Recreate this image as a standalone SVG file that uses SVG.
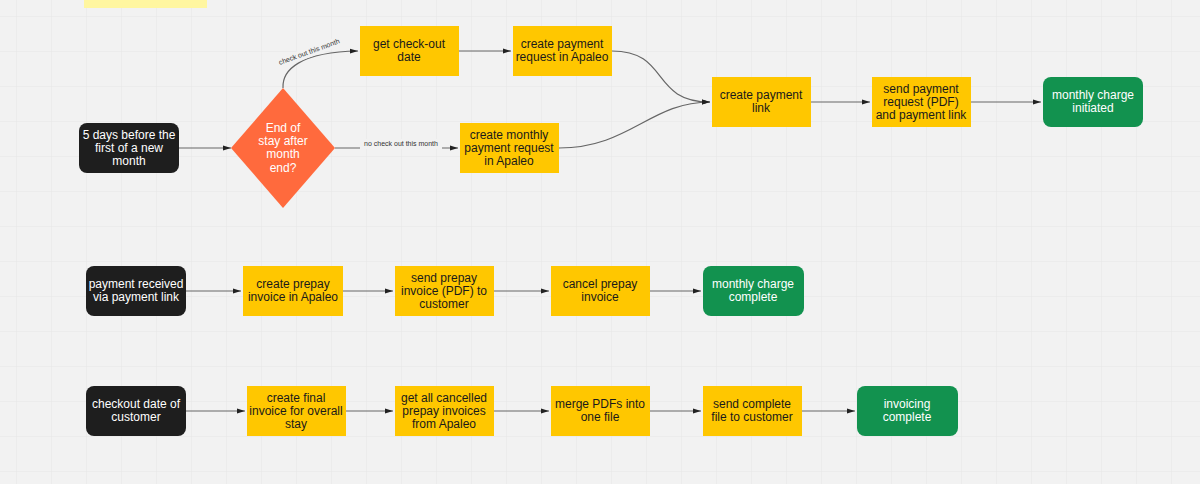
<svg xmlns="http://www.w3.org/2000/svg" width="1200" height="484" viewBox="0 0 1200 484">
<defs>
<pattern id="grid" width="35" height="35" patternUnits="userSpaceOnUse" x="17" y="17">
<path d="M35 0V35H0" fill="none" stroke="#e6e6e6" stroke-width="1"/>
</pattern>
<marker id="ar" viewBox="0 0 10 10" refX="10" refY="5" markerWidth="8" markerHeight="8" orient="auto" markerUnits="userSpaceOnUse"><path d="M0,2L10,5L0,8z" fill="#222"/></marker>
</defs>
<style>
.y{fill:#ffc700}
.b{fill:#1e1e1e}
.g{fill:#12924f}
text{font-family:"Liberation Sans",Arial,sans-serif;font-size:12px;text-anchor:middle}
.dk{fill:#1a1a1a}
.wt{fill:#ffffff}
.c{fill:none;stroke:#666;stroke-width:1.2;marker-end:url(#ar)}
.lb{font-size:7px;fill:#333}
.bg{fill:#f2f2f2}
</style>
<rect width="1200" height="484" fill="#f2f2f2"/>
<rect width="1200" height="484" fill="url(#grid)"/>
<rect x="84" y="-4" width="123" height="12" fill="#fff6a0"/>
<g id="connectors">
<path class="c" d="M179,148H231"/>
<path class="c" d="M283,88C282,70 300,52 358,51"/>
<rect class="bg" x="-35" y="-7" width="70" height="10" transform="translate(310,54) rotate(-20)"/>
<text class="lb" transform="translate(310,54) rotate(-20)">check out this month</text>
<path class="c" d="M335,148H458"/>
<rect class="bg" x="360" y="139" width="82" height="10"/>
<text class="lb" x="401" y="146">no check out this month</text>
<path class="c" d="M459,51H511"/>
<path class="c" d="M612,51C670,51 650,102 710,102"/>
<path class="c" d="M559,148C630,148 650,102 710,102"/>
<path class="c" d="M811,102H870"/>
<path class="c" d="M971,102H1041"/>
<path class="c" d="M186,291H241"/>
<path class="c" d="M343,291H393"/>
<path class="c" d="M494,291H549"/>
<path class="c" d="M650,291H701"/>
<path class="c" d="M186,411H245"/>
<path class="c" d="M346,411H393"/>
<path class="c" d="M494,411H549"/>
<path class="c" d="M650,411H701"/>
<path class="c" d="M802,411H855"/>
</g>
<g id="n1"><rect class="b" x="79" y="123" width="100" height="50" rx="8"/><text class="wt" x="129" y="139">5 days before the</text><text class="wt" x="129" y="152">first of a new</text><text class="wt" x="129" y="165">month</text></g>
<g id="n2"><path d="M283,88L335,148L283,208L231,148Z" fill="#ff6a3d"/><text class="wt" x="283" y="132">End of</text><text class="wt" x="283" y="145">stay after</text><text class="wt" x="283" y="158">month</text><text class="wt" x="283" y="172">end?</text></g>
<g id="n3"><rect class="y" x="360" y="26" width="99" height="50"/><text class="dk" x="409" y="48">get check-out</text><text class="dk" x="409" y="61">date</text></g>
<g id="n4"><rect class="y" x="513" y="26" width="99" height="50"/><text class="dk" x="562" y="48">create payment</text><text class="dk" x="562" y="61">request in Apaleo</text></g>
<g id="n5"><rect class="y" x="460" y="123" width="99" height="50"/><text class="dk" x="509" y="139">create monthly</text><text class="dk" x="509" y="152">payment  request</text><text class="dk" x="509" y="165">in Apaleo</text></g>
<g id="n6"><rect class="y" x="712" y="77" width="99" height="50"/><text class="dk" x="761" y="99">create payment</text><text class="dk" x="761" y="112">link</text></g>
<g id="n7"><rect class="y" x="872" y="77" width="99" height="50"/><text class="dk" x="921" y="93">send payment</text><text class="dk" x="921" y="106">request (PDF)</text><text class="dk" x="921" y="119">and payment link</text></g>
<g id="n8"><rect class="g" x="1043" y="77" width="100" height="50" rx="8"/><text class="wt" x="1093" y="99">monthly charge</text><text class="wt" x="1093" y="112">initiated</text></g>
<g id="r2a"><rect class="b" x="86" y="266" width="100" height="50" rx="8"/><text class="wt" x="136" y="288">payment received</text><text class="wt" x="136" y="301">via payment link</text></g>
<g id="r2b"><rect class="y" x="243" y="266" width="100" height="50"/><text class="dk" x="293" y="288">create prepay</text><text class="dk" x="293" y="301">invoice in Apaleo</text></g>
<g id="r2c"><rect class="y" x="395" y="266" width="99" height="50"/><text class="dk" x="444" y="282">send prepay</text><text class="dk" x="444" y="295">invoice (PDF) to</text><text class="dk" x="444" y="308">customer</text></g>
<g id="r2d"><rect class="y" x="551" y="266" width="99" height="50"/><text class="dk" x="600" y="288">cancel prepay</text><text class="dk" x="600" y="301">invoice</text></g>
<g id="r2e"><rect class="g" x="703" y="266" width="101" height="50" rx="8"/><text class="wt" x="753" y="288">monthly charge</text><text class="wt" x="753" y="301">complete</text></g>
<g id="r3a"><rect class="b" x="86" y="386" width="100" height="50" rx="8"/><text class="wt" x="136" y="408">checkout date of</text><text class="wt" x="136" y="421">customer</text></g>
<g id="r3b"><rect class="y" x="247" y="386" width="99" height="50"/><text class="dk" x="296" y="402">create final</text><text class="dk" x="296" y="415">invoice for overall</text><text class="dk" x="296" y="428">stay</text></g>
<g id="r3c"><rect class="y" x="395" y="386" width="99" height="50"/><text class="dk" x="444" y="402">get all cancelled</text><text class="dk" x="444" y="415">prepay invoices</text><text class="dk" x="444" y="428">from Apaleo</text></g>
<g id="r3d"><rect class="y" x="551" y="386" width="99" height="50"/><text class="dk" x="600" y="408">merge PDFs into</text><text class="dk" x="600" y="421">one file</text></g>
<g id="r3e"><rect class="y" x="703" y="386" width="99" height="50"/><text class="dk" x="752" y="408">send complete</text><text class="dk" x="752" y="421">file to customer</text></g>
<g id="r3f"><rect class="g" x="857" y="386" width="101" height="50" rx="8"/><text class="wt" x="907" y="408">invoicing</text><text class="wt" x="907" y="421">complete</text></g>
</svg>
